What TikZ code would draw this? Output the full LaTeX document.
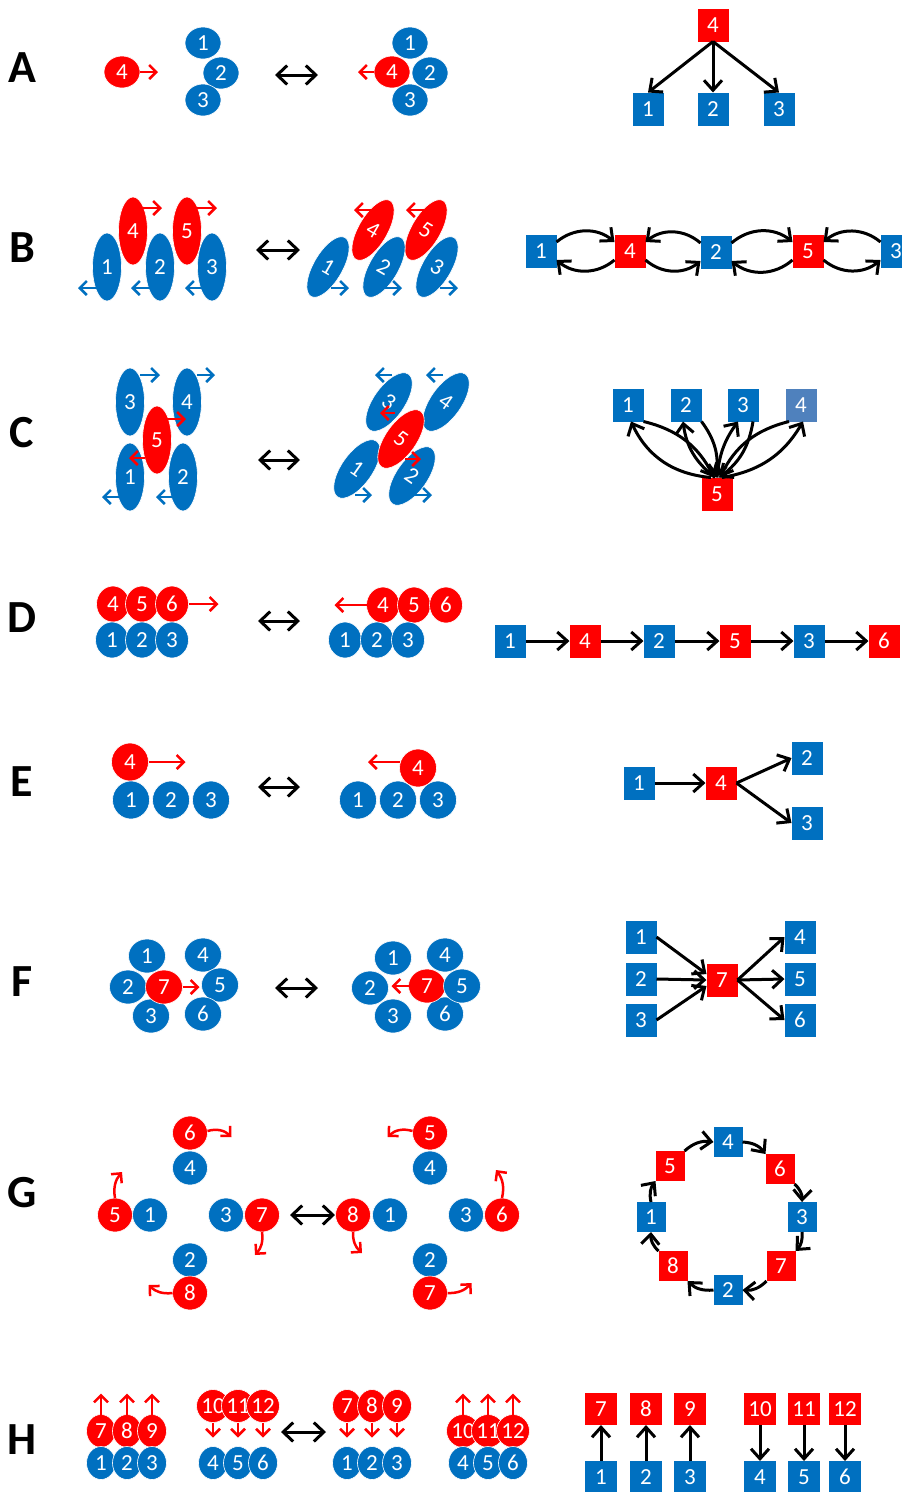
\documentclass[tikz,border=0pt]{standalone}
\usepackage{fontspec}
\setmainfont{Carlito}
\usetikzlibrary{shapes.geometric,arrows.meta}
\definecolor{cb}{RGB}{0,112,192}
\definecolor{cr}{RGB}{255,0,0}
\definecolor{cl}{RGB}{79,129,189}
\tikzset{
 num/.style={text=white,font=\fontsize{23}{23}\selectfont,inner sep=0pt,outer sep=0pt},
 el/.style={num,ellipse,draw=white,line width=0.6pt},
 bc/.style={el,fill=cb}, rc/.style={el,fill=cr},
 sA/.style={minimum width=36pt,minimum height=32pt},
 sB/.style={minimum width=29pt,minimum height=68pt},
 sD/.style={minimum width=33pt,minimum height=36pt},
 sE/.style={minimum width=37pt,minimum height=38pt},
 sF/.style={minimum width=37pt,minimum height=34pt},
 sG/.style={minimum width=35pt,minimum height=34pt},
 sH/.style={minimum width=29pt,minimum height=33pt},
 sq/.style={num,rectangle,minimum width=31pt,minimum height=33pt},
 bsq/.style={sq,fill=cb}, rsq/.style={sq,fill=cr}, lsq/.style={sq,fill=cl},
 lab/.style={font=\fontsize{46}{46}\selectfont\bfseries,inner sep=0pt},
 ar/.style={line width=3pt,-{Straight Barb[length=10pt,width=18pt]}},
 dar/.style={line width=3pt,{Straight Barb[length=10pt,width=19pt]}-{Straight Barb[length=10pt,width=19pt]}},
 rar/.style={cr,line width=2.5pt,-{Straight Barb[length=7pt,width=14pt]}},
 bar/.style={cb,line width=2.5pt,-{Straight Barb[length=7pt,width=14pt]}},
}
\begin{document}
\begin{tikzpicture}[x=1pt,y=-1pt]
\fill[white] (0,0) rectangle (902,1492);
\useasboundingbox (0,0) rectangle (902,1492);

% ---------------- labels
\node[lab] (LA) at (22,68) {A};
\node[lab] (LB) at (22,248) {B};
\node[lab] (LC) at (22,433) {C};
\node[lab] (LD) at (22,618) {D};
\node[lab] (LE) at (22,782) {E};
\node[lab] (LF) at (22,982) {F};
\node[lab] (LG) at (22,1193) {G};
\node[lab] (LH) at (22,1440) {H};

% ---------------- Row A
\node[bc,sA] (a1) at (203,43) {1};
\node[bc,sA] (a2) at (221,73) {2};
\node[bc,sA] (a3) at (203,100) {3};
\node[rc,sA] (a4) at (122,72) {4};
\draw[rar] (a4.east) -- ++(18,0);
\draw[dar] (275,75) -- (318,75);
\node[bc,sA] (a1r) at (410,43) {1};
\node[bc,sA] (a3r) at (410,100) {3};
\node[rc,sA] (a4r) at (392,72) {4};
\node[bc,sA] (a2r) at (430,73) {2};
\draw[rar] (a4r.west) -- ++(-16,0);
\node[rsq] (ga4) at (713,25) {4};
\node[bsq] (ga1) at (648,109) {1};
\node[bsq] (ga2) at (713,109) {2};
\node[bsq] (ga3) at (779,109) {3};
\draw[ar] (ga4.south) -- (ga1.north);
\draw[ar] (ga4.south) -- (ga2.north);
\draw[ar] (ga4.south) -- (ga3.north);

% ---------------- Row B
\node[rc,sB] (b4) at (133,231) {4};
\node[rc,sB] (b5) at (187,231) {5};
\node[bc,sB] (b1) at (107,267) {1};
\node[bc,sB] (b2) at (160,267) {2};
\node[bc,sB] (b3) at (212,267) {3};
\draw[rar] ([shift={(8,-23)}]b4.center) -- ++(21,0);
\draw[rar] ([shift={(9,-23)}]b5.center) -- ++(21,0);
\draw[bar] ([shift={(-7,21)}]b1.center) -- ++(-22,0);
\draw[bar] ([shift={(-7,21)}]b2.center) -- ++(-22,0);
\draw[bar] ([shift={(-7,21)}]b3.center) -- ++(-20,0);
\draw[dar] (256,250) -- (300,250);
\node[rc,sB,rotate=-30] (b4r) at (373,230) {4};
\node[rc,sB,rotate=-30] (b5r) at (426,230) {5};
\node[bc,sB,rotate=-30] (b1r) at (328,267) {1};
\node[bc,sB,rotate=-30] (b2r) at (384,267) {2};
\node[bc,sB,rotate=-30] (b3r) at (437,267) {3};
\draw[rar] ([shift={(0,-20)}]b4r.center) -- ++(-19,0);
\draw[rar] ([shift={(-1,-20)}]b5r.center) -- ++(-19,0);
\draw[bar] ([shift={(3,21)}]b1r.center) -- ++(18,0);
\draw[bar] ([shift={(0,21)}]b2r.center) -- ++(18,0);
\draw[bar] ([shift={(3,21)}]b3r.center) -- ++(18,0);
\node[bsq] (gb1) at (541,251) {1};
\node[rsq] (gb4) at (630,251) {4};
\node[bsq] (gb2) at (716,252) {2};
\node[rsq] (gb5) at (808,251) {5};
\node[bsq] (gb3) at (896,251) {3};
\draw[ar] ([yshift=9pt]gb1.east) to[bend left=40] ([yshift=9pt]gb4.west);
\draw[ar] ([yshift=-9pt]gb4.west) to[bend left=40] ([yshift=-9pt]gb1.east);
\draw[ar] ([yshift=9pt]gb2.west) to[bend right=40] ([yshift=9pt]gb4.east);
\draw[ar] ([yshift=-9pt]gb4.east) to[bend right=40] ([yshift=-9pt]gb2.west);
\draw[ar] ([yshift=9pt]gb2.east) to[bend left=40] ([yshift=9pt]gb5.west);
\draw[ar] ([yshift=-9pt]gb5.west) to[bend left=40] ([yshift=-9pt]gb2.east);
\draw[ar] ([yshift=9pt]gb3.west) to[bend right=40] ([yshift=9pt]gb5.east);
\draw[ar] ([yshift=-9pt]gb5.east) to[bend right=40] ([yshift=-9pt]gb3.west);

% ---------------- Row C
\node[bc,sB] (c3) at (130,402) {3};
\node[bc,sB] (c4) at (187,402) {4};
\node[bc,sB] (c1) at (130,477) {1};
\node[bc,sB] (c2) at (183,477) {2};
\node[rc,sB] (c5) at (157,440) {5};
\draw[bar] ([shift={(10,-27)}]c3.center) -- ++(20,0);
\draw[bar] ([shift={(10,-27)}]c4.center) -- ++(18,0);
\draw[bar] ([shift={(-10,20)}]c1.center) -- ++(-18,0);
\draw[bar] ([shift={(-11,20)}]c2.center) -- ++(-16,0);
\draw[rar] ([shift={(10,-21)}]c5.center) -- ++(19,0);
\draw[rar] ([shift={(-12,18)}]c5.center) -- ++(-16,0);
\draw[dar] (258,460) -- (300,460);
\node[bc,sB,rotate=-35,minimum width=31pt] (c3r) at (389,402) {3};
\node[bc,sB,rotate=-35,minimum width=31pt] (c4r) at (446,402) {4};
\node[bc,sB,rotate=-35,minimum width=31pt] (c1r) at (357,469) {1};
\node[bc,sB,rotate=-35,minimum width=31pt] (c2r) at (412,476) {2};
\node[rc,sB,rotate=-35,minimum width=31pt] (c5r) at (401,439) {5};
\draw[bar] ([shift={(3,-27)}]c3r.center) -- ++(-17,0);
\draw[bar] ([shift={(-3,-27)}]c4r.center) -- ++(-17,0);
\draw[rar] ([shift={(-6,-26)}]c5r.center) -- ++(-15,0);
\draw[rar] ([shift={(4,20)}]c5r.center) -- ++(16,0);
\draw[bar] ([shift={(-2,26)}]c1r.center) -- ++(17,0);
\draw[bar] ([shift={(1,19)}]c2r.center) -- ++(19,0);
\node[bsq] (gc1) at (628,405) {1};
\node[bsq] (gc2) at (686,405) {2};
\node[bsq] (gc3) at (743,405) {3};
\node[lsq] (gc4) at (801,405) {4};
\node[rsq] (gc5) at (717,494) {5};
\draw[ar] ([xshift=-6pt]gc5.north) to[bend left=30] ([xshift=3pt]gc1.south);
\draw[ar] (gc1.south east) to[bend left=25] ([xshift=-3pt]gc5.north);
\draw[ar] ([xshift=-2pt]gc5.north) to[bend left=22] ([xshift=-3pt]gc2.south);
\draw[ar] (gc2.south east) to[bend left=22] ([xshift=-1pt]gc5.north);
\draw[ar] (gc5.north) to[bend left=15] ([xshift=-5pt]gc3.south);
\draw[ar] ([xshift=10pt]gc3.south) to[bend left=22] ([xshift=2pt]gc5.north);
\draw[ar] ([xshift=5pt]gc5.north) to[bend right=25] ([xshift=2pt]gc4.south);
\draw[ar] ([xshift=-12pt]gc4.south) to[bend right=25] ([xshift=3pt]gc5.north);

% ---------------- Row D
\node[rc,sD] (d4) at (113,604) {4};
\node[rc,sD] (d5) at (142,604) {5};
\node[rc,sD] (d6) at (172,604) {6};
\node[bc,sD] (d1) at (112,640) {1};
\node[bc,sD] (d2) at (142,640) {2};
\node[bc,sD] (d3) at (172,640) {3};
\draw[rar] (d6.east) -- ++(30,0);
\draw[dar] (258,621) -- (300,621);
\node[rc,sD] (d4r) at (383,605) {4};
\node[rc,sD] (d5r) at (414,605) {5};
\node[rc,sD] (d6r) at (446,605) {6};
\node[bc,sD] (d1r) at (345,640) {1};
\node[bc,sD] (d2r) at (377,640) {2};
\node[bc,sD] (d3r) at (408,640) {3};
\draw[rar] (d4r.west) -- ++(-32,0);
\node[bsq] (gd1) at (510,641) {1};
\node[rsq] (gd4) at (585,641) {4};
\node[bsq] (gd2) at (659,641) {2};
\node[rsq] (gd5) at (735,641) {5};
\node[bsq] (gd3) at (809,641) {3};
\node[rsq] (gd6) at (884,641) {6};
\draw[ar] (gd1) -- (gd4);
\draw[ar] (gd4) -- (gd2);
\draw[ar] (gd2) -- (gd5);
\draw[ar] (gd5) -- (gd3);
\draw[ar] (gd3) -- (gd6);

% ---------------- Row E
\node[rc,sE] (e4) at (130,762) {4};
\node[bc,sE] (e1) at (131,800) {1};
\node[bc,sE] (e2) at (171,800) {2};
\node[bc,sE] (e3) at (211,800) {3};
\draw[rar] (e4.east) -- ++(37,0);
\draw[dar] (258,787) -- (300,787);
\node[bc,sE] (e1r) at (358,800) {1};
\node[bc,sE] (e2r) at (398,800) {2};
\node[bc,sE] (e3r) at (438,800) {3};
\node[rc,sE] (e4r) at (418,768) {4};
\draw[rar] ([shift={(-18,-6)}]e4r.center) -- ++(-32,0);
\node[bsq] (ge1) at (639,783) {1};
\node[rsq] (ge4) at (721,783) {4};
\node[bsq] (ge2) at (807,758) {2};
\node[bsq] (ge3) at (807,823) {3};
\draw[ar] (ge1) -- (ge4);
\draw[ar] (ge4.east) -- (ge2.west);
\draw[ar] (ge4.east) -- (ge3.west);

% ---------------- Row F
\node[bc,sF] (f1) at (147,956) {1};
\node[bc,sF] (f4) at (203,955) {4};
\node[bc,sF] (f2) at (128,987) {2};
\node[bc,sF] (f5) at (220,985) {5};
\node[bc,sF] (f3) at (151,1016) {3};
\node[bc,sF] (f6) at (203,1014) {6};
\node[rc,sF] (f7) at (164,987) {7};
\draw[rar] (f7.east) -- ++(17,0);
\draw[dar] (275,988) -- (318,988);
\node[bc,sF] (f1r) at (393,958) {1};
\node[bc,sF] (f4r) at (445,955) {4};
\node[bc,sF] (f2r) at (370,988) {2};
\node[bc,sF] (f3r) at (393,1016) {3};
\node[bc,sF] (f6r) at (445,1014) {6};
\node[rc,sF] (f7r) at (427,986) {7};
\node[bc,sF] (f5r) at (462,986) {5};
\draw[rar] (f7r.west) -- ++(-17,0);
\node[bsq] (gf1) at (641,937) {1};
\node[bsq] (gf2) at (641,979) {2};
\node[bsq] (gf3) at (641,1020) {3};
\node[rsq] (gf7) at (722,980) {7};
\node[bsq] (gf4) at (800,937) {4};
\node[bsq] (gf5) at (800,979) {5};
\node[bsq] (gf6) at (800,1020) {6};
\draw[ar] (gf1.east) -- ([yshift=6pt]gf7.west);
\draw[ar] (gf2.east) -- (gf7.west);
\draw[ar] (gf3.east) -- ([yshift=-6pt]gf7.west);
\draw[ar] (gf7.east) -- (gf4.west);
\draw[ar] (gf7.east) -- (gf5.west);
\draw[ar] (gf7.east) -- (gf6.west);

% ---------------- Row G
\node[rc,sG] (g6) at (190,1133) {6};
\node[bc,sG] (g4) at (190,1168) {4};
\node[rc,sG] (g5) at (115,1215) {5};
\node[bc,sG] (g1) at (150,1215) {1};
\node[bc,sG] (g3) at (226,1215) {3};
\node[rc,sG] (g7) at (262,1215) {7};
\node[bc,sG] (g2) at (190,1260) {2};
\node[rc,sG] (g8) at (190,1293) {8};
\draw[rar] ([yshift=2pt]g6.east) to[bend left=30] ++(24,6);
\draw[rar] (g5.north) to[bend left=25] ++(7,-26);
\draw[rar] (g7.south) to[bend left=25] ++(-7,23);
\draw[rar] (g8.west) to[bend left=25] ++(-24,-8);
\draw[dar] (290,1215) -- (335,1215);
\node[rc,sG] (g8r) at (353,1215) {8};
\node[bc,sG] (g1r) at (390,1215) {1};
\node[rc,sG] (g5r) at (430,1133) {5};
\node[bc,sG] (g4r) at (430,1168) {4};
\node[bc,sG] (g3r) at (466,1215) {3};
\node[rc,sG] (g6r) at (502,1215) {6};
\node[bc,sG] (g2r) at (430,1260) {2};
\node[rc,sG] (g7r) at (430,1293) {7};
\draw[rar] ([yshift=2pt]g5r.west) to[bend right=30] ++(-25,6);
\draw[rar] (g6r.north) to[bend right=25] ++(-6,-28);
\draw[rar] (g8r.south) to[bend right=25] ++(9,21);
\draw[rar] (g7r.east) to[bend right=25] ++(24,-10);
\begin{scope}[sq/.append style={minimum width=29pt,minimum height=30pt}]
\node[bsq] (gg4) at (728,1142) {4};
\node[rsq] (gg6) at (780,1169) {6};
\node[bsq] (gg3) at (802,1217) {3};
\node[rsq] (gg7) at (781,1266) {7};
\node[bsq] (gg2) at (728,1290) {2};
\node[rsq] (gg8) at (673,1266) {8};
\node[bsq] (gg1) at (651,1217) {1};
\node[rsq] (gg5) at (670,1166) {5};
\end{scope}
\draw[ar] (gg1.north) to[bend left=25] (gg5.south west);
\draw[ar] (gg5.north east) to[bend left=25] (gg4.west);
\draw[ar] (gg4.east) to[bend left=25] (gg6.north west);
\draw[ar] (gg6.south east) to[bend left=25] (gg3.north);
\draw[ar] (gg3.south) to[bend left=25] (gg7.north east);
\draw[ar] (gg7.south west) to[bend left=25] (gg2.east);
\draw[ar] (gg2.west) to[bend left=25] (gg8.south east);
\draw[ar] (gg8.north west) to[bend left=25] (gg1.south);

% ---------------- Row H
\node[rc,sH] (h7) at (101,1431) {7};
\node[rc,sH] (h8) at (127,1431) {8};
\node[rc,sH] (h9) at (152,1431) {9};
\node[bc,sH] (h1) at (101,1463) {1};
\node[bc,sH] (h2) at (127,1463) {2};
\node[bc,sH] (h3) at (152,1463) {3};
\draw[rar] (h7.north) -- ++(0,-21);
\draw[rar] (h8.north) -- ++(0,-21);
\draw[rar] (h9.north) -- ++(0,-21);
\node[rc,sH] (h10) at (213,1406) {10};
\node[rc,sH] (h11) at (238,1406) {11};
\node[rc,sH] (h12) at (263,1406) {12};
\node[bc,sH] (h4) at (213,1463) {4};
\node[bc,sH] (h5) at (238,1463) {5};
\node[bc,sH] (h6) at (263,1463) {6};
\draw[rar] (h10.south) -- ++(0,15);
\draw[rar] (h11.south) -- ++(0,15);
\draw[rar] (h12.south) -- ++(0,15);
\draw[dar] (281,1432) -- (326,1432);
\node[rc,sH] (h7r) at (347,1406) {7};
\node[rc,sH] (h8r) at (372,1406) {8};
\node[rc,sH] (h9r) at (397,1406) {9};
\node[bc,sH] (h1r) at (347,1463) {1};
\node[bc,sH] (h2r) at (372,1463) {2};
\node[bc,sH] (h3r) at (397,1463) {3};
\draw[rar] (h7r.south) -- ++(0,15);
\draw[rar] (h8r.south) -- ++(0,15);
\draw[rar] (h9r.south) -- ++(0,15);
\node[rc,sH] (h10r) at (463,1431) {10};
\node[rc,sH] (h11r) at (488,1431) {11};
\node[rc,sH] (h12r) at (513,1431) {12};
\node[bc,sH] (h4r) at (463,1463) {4};
\node[bc,sH] (h5r) at (488,1463) {5};
\node[bc,sH] (h6r) at (513,1463) {6};
\draw[rar] (h10r.north) -- ++(0,-21);
\draw[rar] (h11r.north) -- ++(0,-21);
\draw[rar] (h12r.north) -- ++(0,-21);
\begin{scope}[sq/.append style={minimum width=32pt,minimum height=32pt}]
\node[rsq] (gh7) at (601,1409) {7};
\node[rsq] (gh8) at (646,1409) {8};
\node[rsq] (gh9) at (690,1409) {9};
\node[rsq] (gh10) at (760,1409) {10};
\node[rsq] (gh11) at (804,1409) {11};
\node[rsq] (gh12) at (845,1409) {12};
\node[bsq] (gh1) at (601,1477) {1};
\node[bsq] (gh2) at (646,1477) {2};
\node[bsq] (gh3) at (690,1477) {3};
\node[bsq] (gh4) at (760,1477) {4};
\node[bsq] (gh5) at (804,1477) {5};
\node[bsq] (gh6) at (845,1477) {6};
\end{scope}
\draw[ar] (gh1.north) -- (gh7.south);
\draw[ar] (gh2.north) -- (gh8.south);
\draw[ar] (gh3.north) -- (gh9.south);
\draw[ar] (gh10.south) -- (gh4.north);
\draw[ar] (gh11.south) -- (gh5.north);
\draw[ar] (gh12.south) -- (gh6.north);
\end{tikzpicture}
\end{document}
